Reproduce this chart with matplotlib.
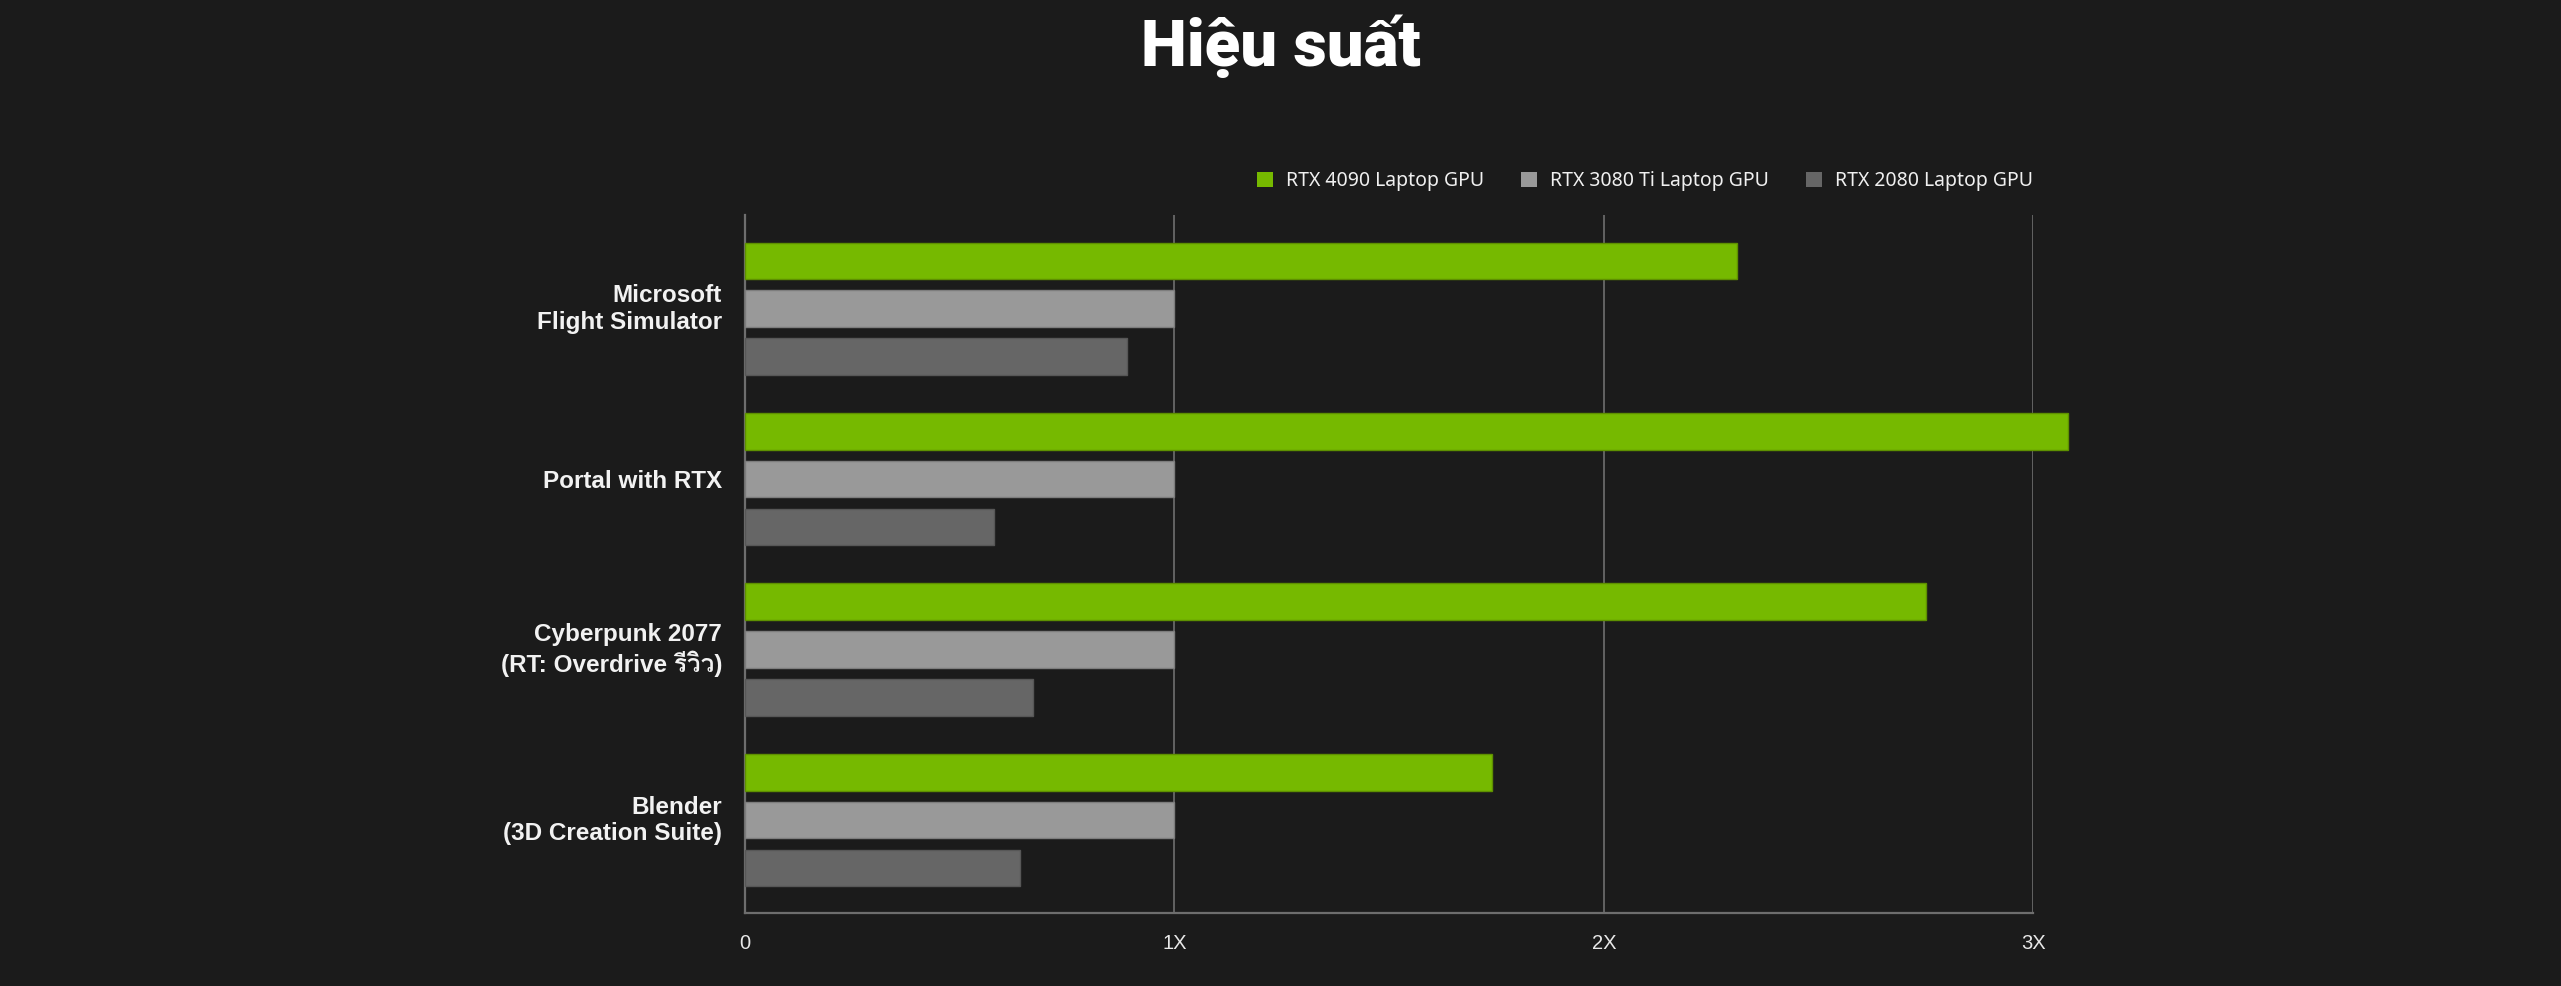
import matplotlib.pyplot as plt
from matplotlib import font_manager
from matplotlib.ft2font import FT2Font
import matplotlib.transforms as mtransforms
import numpy as np

games = ["Microsoft\nFlight Simulator", "Portal with RTX",
         "Cyberpunk 2077\n(RT: Overdrive รีวิว)", "Blender\n(3D Creation Suite)"]
gpus = ["RTX 4090 Laptop GPU", "RTX 3080 Ti Laptop GPU", "RTX 2080 Laptop GPU"]
rtx4090 = [2.31, 3.08, 2.75, 1.74]
rtx3080ti = [1.0, 1.0, 1.0, 1.0]
rtx2080 = [0.89, 0.58, 0.67, 0.64]
xticks = [0, 1, 2, 3]
xtick_labels = ["0", "1X", "2X", "3X"]

BG = "#1b1b1b"
GRID = "#6e6e6e"
colors = ["#76b900", "#999999", "#666666"]
edges = ["#5e9000", "#7d7d7d", "#575757"]


def thai_families():
    # look for any installed font that has Thai letters
    found = []
    for f in font_manager.fontManager.ttflist:
        try:
            cmap = FT2Font(f.fname).get_charmap()
        except Exception:
            continue
        if 0x0E23 in cmap and 0x0E27 in cmap and 0x0E35 in cmap:
            if f.name not in found:
                found.append(f.name)
    return found


label_fonts = ["Liberation Sans"] + thai_families() + ["DejaVu Sans"]

fig = plt.figure(figsize=(25.61, 9.86), dpi=100, facecolor=BG)
ax = fig.add_axes([0.2909, 0.074, 0.5031, 0.708])
ax.set_facecolor(BG)

y = np.arange(len(games))
for i, vals in enumerate([rtx4090, rtx3080ti, rtx2080]):
    ax.barh(y + (i - 1) * 0.281, vals, height=0.2147, color=colors[i],
            edgecolor=edges[i], linewidth=1, label=gpus[i],
            clip_on=False, zorder=3)

ax.set_xlim(0, 3)
ax.set_ylim(3.545, -0.55)
ax.set_xticks(xticks, xtick_labels)
ax.set_yticks(y, games)

ax.xaxis.grid(True, color=GRID, linewidth=1.2, zorder=0)
ax.set_axisbelow(True)
for s in ["top", "right"]:
    ax.spines[s].set_visible(False)
for s in ["left", "bottom"]:
    ax.spines[s].set_color(GRID)
    ax.spines[s].set_linewidth(1.6)

ax.tick_params(axis="x", length=0, pad=15, colors="#e8e8e8", labelsize=14.5)
ax.tick_params(axis="y", length=0, pad=16.5, colors="#f2f2f2")
for lbl in ax.get_xticklabels():
    lbl.set_family(["Liberation Sans", "DejaVu Sans"])

nudge = mtransforms.ScaledTranslation(0, 4 / 100, fig.dpi_scale_trans)
for lbl in ax.get_yticklabels():
    lbl.set_family(label_fonts)
    lbl.set_fontweight("bold")
    lbl.set_fontsize(17.5)
    lbl.set_linespacing(1.2)
    if "\n" in lbl.get_text():
        lbl.set_transform(lbl.get_transform() + nudge)

leg = ax.legend(loc="center right", bbox_to_anchor=(1.0, 1.048), ncol=3,
                frameon=False, borderpad=0, borderaxespad=0,
                handlelength=0.8, handleheight=0.8, handletextpad=0.7,
                columnspacing=1.9,
                prop={"family": "Noto Sans", "size": 14})
for t in leg.get_texts():
    t.set_color("#f0f0f0")
for h in leg.legend_handles:
    h.set_linewidth(0)

fig.text(0.5, 1 - 66 / 986, "Hiệu suất", ha="center", va="baseline",
         color="white", fontsize=47, fontweight=900, family="Roboto")

fig.savefig("out.png", dpi=100, facecolor=BG)
